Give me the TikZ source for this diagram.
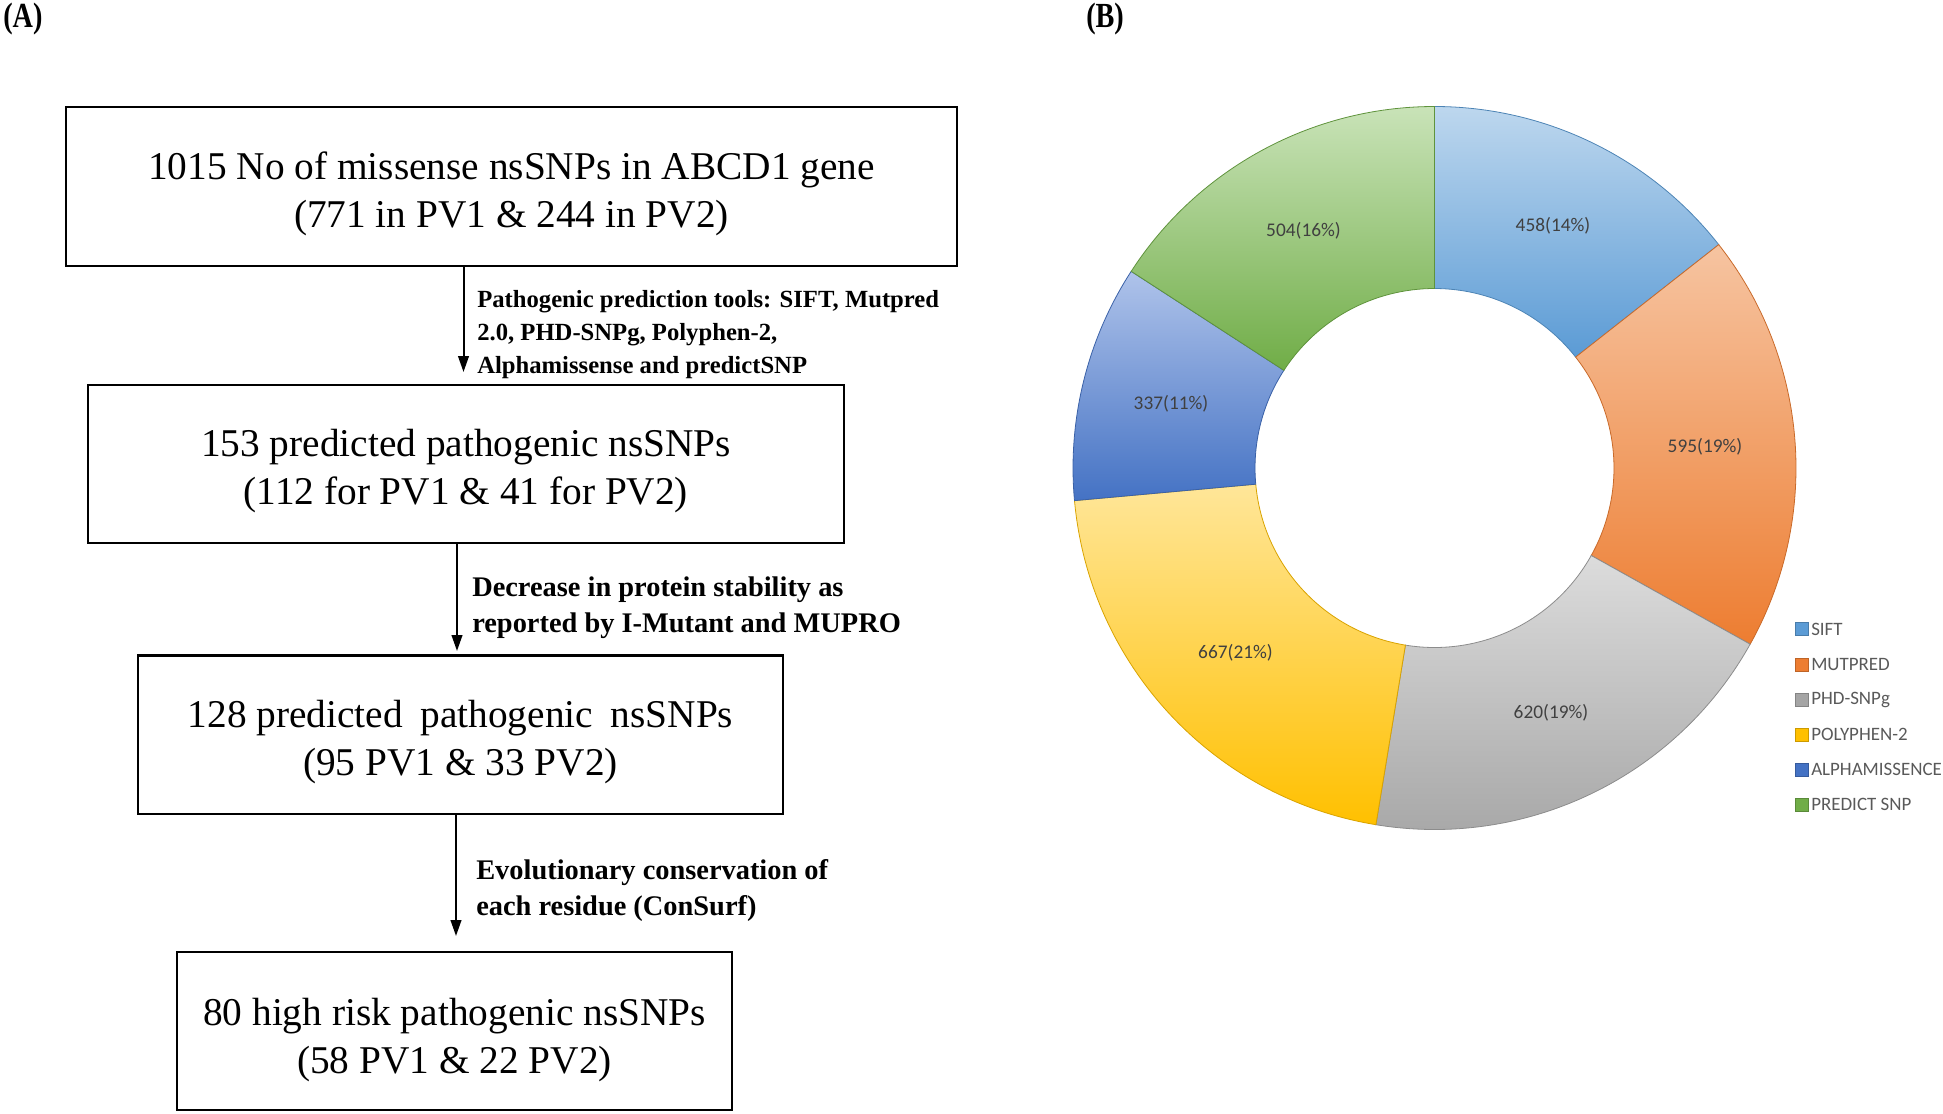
\documentclass[tikz,border=0pt]{standalone}
\usepackage{fontspec}
\setmainfont{Liberation Serif}
\newfontfamily\carlito{Carlito}
\usetikzlibrary{arrows.meta}
\definecolor{siftT}{HTML}{BDD7EE}\definecolor{siftB}{HTML}{5B9BD5}
\definecolor{mutT}{HTML}{F6C4A1}\definecolor{mutB}{HTML}{ED7D31}
\definecolor{phdT}{HTML}{DCDCDC}\definecolor{phdB}{HTML}{A5A5A5}
\definecolor{polT}{HTML}{FFE699}\definecolor{polB}{HTML}{FFC000}
\definecolor{alpT}{HTML}{AFC3EA}\definecolor{alpB}{HTML}{4472C4}
\definecolor{preT}{HTML}{C9E3B8}\definecolor{preB}{HTML}{70AD47}
\definecolor{lbl}{HTML}{404040}
\definecolor{leg}{HTML}{595959}
\newcommand\topstrut{\rule{0pt}{31.5pt}}
\begin{document}
\begin{tikzpicture}[x=0.75pt, y=-0.75pt,
  box/.style={draw, line width=1.6pt, align=center, inner sep=0pt,
    font=\fontsize{29.5}{36}\selectfont},
  lab/.style={anchor=west, align=left, inner sep=0pt, font=\bfseries\fontsize{18.5}{25}\selectfont},
  labb/.style={anchor=west, align=left, inner sep=0pt, font=\bfseries\fontsize{21.3}{27}\selectfont},
  arr/.style={line width=1.5pt, -{Stealth[length=12pt, width=8pt, inset=0pt]}},
  pan/.style={inner sep=0pt, font=\bfseries\fontsize{23}{23}\selectfont},
  val/.style={inner sep=0pt, text=lbl, font=\carlito\fontsize{14.5}{14.5}\selectfont},
  legsq/.style={minimum size=9.5pt, inner sep=0pt, draw=#1!80!black, line width=0.3pt, fill=#1},
  legtx/.style={anchor=west, inner sep=0pt, text=leg, font=\carlito\fontsize{14.2}{14.2}\selectfont},
  slice/.style n args={2}{top color=#1, bottom color=#2, draw=#2!85!black, line width=0.6pt}
]
\useasboundingbox (0,0) rectangle (1943,1114);

% panel labels
\node[pan, anchor=north west] (pA) at (3,3) {\scalebox{0.92}[1.15]{(A)}};
\node[pan, anchor=north west] (pB) at (1086,3) {\scalebox{0.92}[1.15]{(B)}};

% flow boxes
\node[box, minimum width=668.25pt, minimum height=119.25pt] (b1) at (511.5,186.5)
  {\topstrut 1015 No of missense nsSNPs in ABCD1 gene\\(771 in PV1 \& 244 in PV2)};
\node[box, minimum width=567pt, minimum height=118.5pt] (b2) at (466,464)
  {\topstrut 153 predicted pathogenic nsSNPs\\(112 for PV1 \& 41 for PV2)};
\node[box, minimum width=483.75pt, minimum height=118.9pt] (b3) at (460.5,734.75)
  {\topstrut 128 predicted\hspace{0.45em}pathogenic\hspace{0.45em}nsSNPs\\(95 PV1 \& 33 PV2)};
\node[box, minimum width=416.25pt, minimum height=118.5pt] (b4) at (454.5,1031)
  {\rule{0pt}{34pt}80 high risk pathogenic nsSNPs\\(58 PV1 \& 22 PV2)};

% arrows
\coordinate (e1) at (463.5,372);
\coordinate (e2) at (457,651);
\coordinate (e3) at (456,936);
\draw[arr] (b1.south -| e1) -- (e1);
\draw[arr] (b2.south -| e2) -- (e2);
\draw[arr] (b3.south -| e3) -- (e3);

% arrow labels
\node[lab] (l1) at (477,334.5) {Pathogenic prediction tools: SIFT, Mutpred\\2.0, PHD-SNPg, Polyphen-2,\\Alphamissense and predictSNP};
\node[labb] (l2) at (472,607.5) {Decrease in protein stability as\\reported by I-Mutant and MUPRO};
\node[labb] (l3) at (476,890.5) {Evolutionary conservation of\\each residue (ConSurf)};

% donut
\begin{scope}[shift={(1434.5,468)}, x=0.75pt, y=0.75pt]
  \def\RO{361.5}\def\RI{179.5}
  \path[slice={siftT}{siftB}] (90:\RO) arc[start angle=90, end angle=38.167, radius=\RO] -- (38.167:\RI) arc[start angle=38.167, end angle=90, radius=\RI] -- cycle;
  \path[slice={mutT}{mutB}] (38.167:\RO) arc[start angle=38.167, end angle=-29.17, radius=\RO] -- (-29.17:\RI) arc[start angle=-29.17, end angle=38.167, radius=\RI] -- cycle;
  \path[slice={phdT}{phdB}] (-29.17:\RO) arc[start angle=-29.17, end angle=-99.33, radius=\RO] -- (-99.33:\RI) arc[start angle=-99.33, end angle=-29.17, radius=\RI] -- cycle;
  \path[slice={polT}{polB}] (-99.33:\RO) arc[start angle=-99.33, end angle=-174.82, radius=\RO] -- (-174.82:\RI) arc[start angle=-174.82, end angle=-99.33, radius=\RI] -- cycle;
  \path[slice={alpT}{alpB}] (-174.82:\RO) arc[start angle=-174.82, end angle=-212.96, radius=\RO] -- (-212.96:\RI) arc[start angle=-212.96, end angle=-174.82, radius=\RI] -- cycle;
  \path[slice={preT}{preB}] (-212.96:\RO) arc[start angle=-212.96, end angle=-270, radius=\RO] -- (-270:\RI) arc[start angle=-270, end angle=-212.96, radius=\RI] -- cycle;
\end{scope}

% slice values
\node[val] (v1) at (1553,225.5) {458(14\%)};
\node[val] (v2) at (1705,447) {595(19\%)};
\node[val] (v3) at (1551,712.5) {620(19\%)};
\node[val] (v4) at (1235.5,653) {667(21\%)};
\node[val] (v5) at (1171,404) {337(11\%)};
\node[val] (v6) at (1303.5,230.5) {504(16\%)};

% legend
\node[legsq=siftB] (q1) at (1801.5,629) {};
\node[legtx] (t1) at (1811,629) {SIFT};
\node[legsq=mutB] (q2) at (1801.5,664.5) {};
\node[legtx] (t2) at (1811,664.5) {MUTPRED};
\node[legsq=phdB] (q3) at (1801.5,699.5) {};
\node[legtx] (t3) at (1811,699.5) {PHD-SNPg};
\node[legsq=polB] (q4) at (1801.5,734.5) {};
\node[legtx] (t4) at (1811,734.5) {POLYPHEN-2};
\node[legsq=alpB] (q5) at (1801.5,769.5) {};
\node[legtx] (t5) at (1811,769.5) {ALPHAMISSENCE};
\node[legsq=preB] (q6) at (1801.5,804.5) {};
\node[legtx] (t6) at (1811,804.5) {PREDICT SNP};
\end{tikzpicture}
\end{document}
